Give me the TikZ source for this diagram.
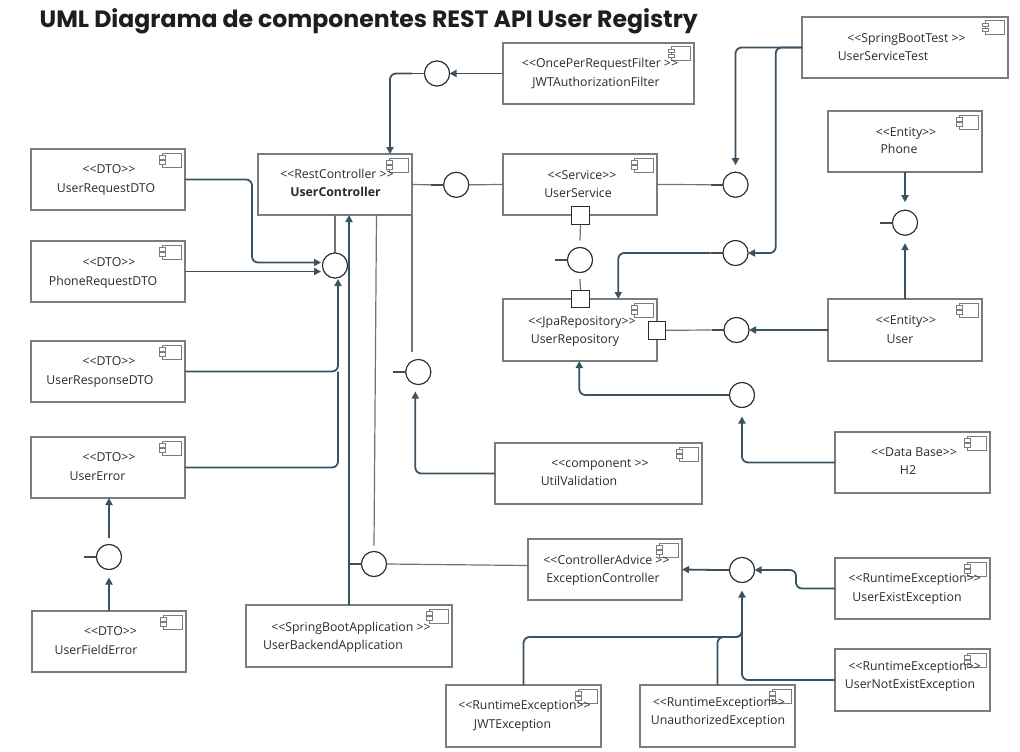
\documentclass[tikz,border=0pt]{standalone}
\usepackage{graphicx}
\usepackage{fontspec}
\setmainfont{Open Sans}
\newfontfamily\titlefont{Poppins}
\usetikzlibrary{arrows.meta}
\definecolor{connc}{HTML}{3B5262}
\definecolor{thinc}{HTML}{727272}
\definecolor{boxc}{HTML}{7C7C7C}
\definecolor{inkc}{HTML}{2B2B2B}
\definecolor{stubc}{HTML}{4A4A4A}
\definecolor{titlec}{HTML}{1E1E1E}
\newcommand\LL{<\kern0pt<}
\newcommand\GG{>\kern0pt>}
\tikzset{
  compbox/.style={draw=boxc, line width=1.4pt, fill=white, anchor=north west, inner sep=0pt, outer sep=0pt},
  lbl/.style={anchor=base, inner sep=0pt, text=inkc, font=\fontsize{12.3}{14}\selectfont},
  iface/.style={circle, draw=inkc, line width=1pt, minimum size=25pt, inner sep=0pt, outer sep=0pt, fill=white},
  port/.style={rectangle, draw=inkc, line width=1pt, minimum size=17.5pt, inner sep=0pt, outer sep=0pt, fill=white},
  conn/.style={draw=connc, line width=1.8pt, rounded corners=6pt},
  arr/.style={conn, -{Triangle[length=7pt,width=7pt]}},
  thinl/.style={draw=thinc, line width=1.2pt},
  stubl/.style={draw=stubc, line width=1.6pt},
  iconl/.style={draw=boxc, line width=1pt},
}
\newcommand\comp[5]{%
  \node[compbox, minimum width={#4-#2}, minimum height={#5-#3}] (#1) at (#2,#3) {};
  \draw[iconl] ([xshift=-23pt,yshift=-4pt]#1.north east) rectangle ([xshift=-4pt,yshift=-18pt]#1.north east);
  \draw[iconl,fill=white] ([xshift=-26pt,yshift=-6.5pt]#1.north east) rectangle ([xshift=-20pt,yshift=-10pt]#1.north east);
  \draw[iconl,fill=white] ([xshift=-26pt,yshift=-11.5pt]#1.north east) rectangle ([xshift=-20pt,yshift=-15pt]#1.north east);
}
\newcommand\txt[4]{\node[lbl] (#1) at (#2,{#3+4.5}) {#4};}
\begin{document}
\begin{tikzpicture}[x=1pt,y=-1pt]
\useasboundingbox[fill=white] (0,0) rectangle (1020,752);

% title
\node[anchor=base west, inner sep=0pt, text=titlec] (title) at (39.5,27.3)
  {\resizebox{658pt}{!}{\titlefont\bfseries UML Diagrama de componentes REST API User Registry}};

\coordinate (dIn1) at (321,262.5);
\coordinate (dIn2) at (321,271.5);
\coordinate (dIn3) at (338,279);
\coordinate (jExc) at (742,637);

% ---------- components ----------
\comp{UReq}{31}{149}{185}{210}
\comp{PReq}{31}{241}{185}{302}
\comp{URes}{31}{341}{185}{402}
\comp{UErr}{31}{437}{185}{498}
\comp{UFE}{32}{611}{186}{672}
\comp{UC}{258}{154}{412}{215}
\comp{JWT}{503}{43}{694}{104}
\comp{US}{503}{154}{657}{215}
\comp{UST}{802}{17}{1008}{78}
\comp{Phone}{828}{111}{982}{172}
\comp{User}{828}{299}{982}{361}
\comp{Repo}{503}{299}{657}{361}
\comp{Util}{495}{443}{702}{504}
\comp{H2}{835}{432}{990}{493}
\comp{ExcC}{528}{539}{682}{600}
\comp{UEx}{835}{558}{990}{619}
\comp{UNEx}{835}{649}{990}{711}
\comp{JWTE}{446}{685}{601}{747}
\comp{Unauth}{640}{685}{795}{747}
\comp{App}{246}{605}{452}{667}

% ---------- interfaces ----------
\node[iface] (cJWT) at (437,73.5) {};
\node[iface] (cUCUS) at (456.2,184.8) {};
\node[iface] (cDTO) at (335,265.5) {};
\node[iface] (cUSR) at (735.5,184.7) {};
\node[iface] (cUST2) at (735.5,253) {};
\node[iface] (cRepoU) at (736.5,330) {};
\node[iface] (cSvcRepo) at (580,260) {};
\node[iface] (cPhone) at (905,222.7) {};
\node[iface] (cUtil) at (418.3,372) {};
\node[iface] (cH2) at (742,395) {};
\node[iface] (cExc) at (742,570) {};
\node[iface] (cApp) at (374,564) {};
\node[iface] (cErr) at (109,557) {};

% ports
\node[port] (pUS) at (580.5,215.5) {};
\node[port] (pRepoT) at (580.5,299.2) {};
\node[port] (pRepoR) at (657,330.3) {};

% ---------- stubs ----------
\foreach \c in {cJWT,cUCUS,cUSR,cUST2,cRepoU,cSvcRepo,cPhone,cUtil,cH2,cExc,cErr}
  \draw[stubl] (\c.west) -- ++(-12.5,0) coordinate (s\c);

% ---------- connectors ----------
\draw[arr] (JWT.west) -- (cJWT.east);
\draw[arr] (scJWT) -| (390,0 |- UC.north);
\draw[thinl] (UC.east) -- (scUCUS);
\draw[thinl] (cUCUS.east) -- (US.west);
\draw[thinl] (US.east) -- (scUSR);
\draw[arr] (UST.west) -| ([yshift=7pt]cUSR.north);
\draw[arr] (UST.west) -| (775.7,0 |- cUST2.east) -- (cUST2.east);
\draw[arr] (scUST2) -| (618.3,0 |- Repo.north);
\draw[thinl] (pUS.south) -- ([yshift=7pt]cSvcRepo.north);
\draw[thinl] ([yshift=-6.5pt]cSvcRepo.south) -- (pRepoT.north);
\draw[thinl] (pRepoR.east) -- (scRepoU);
\draw[arr] (User.west) -- (cRepoU.east);
\draw[arr] (Phone.south) -- ([yshift=8pt]cPhone.north);
\draw[arr] (User.north) -- ([yshift=-8pt]cPhone.south);
\draw[arr] (scH2) -| (579.3,0 |- Repo.south);
\draw[arr] (H2.west) -| ([yshift=-9pt]cH2.south);
\draw[arr] (Util.west) -| ([xshift=-3pt,yshift=-7pt]cUtil.south);
\draw[thinl] (UC.south east) -- ++(0,137);
\draw[thinl] (UC.south) -- (cDTO.north);
\draw[arr] (UReq.east) -| (252,0 |- dIn1) -- (dIn1);
\draw[arr] (PReq.east) -- (dIn2);
\draw[arr] (URes.east) -| (dIn3);
\draw[conn] (UErr.east) -| (338,371.5);
\draw[arr] (App.north) -- (UC.south -| App.north);
\draw[stubl] (cApp.west -| App.north) -- (cApp.west);
\draw[thinl] (376.5,0 |- UC.south) -- ([yshift=6pt]cApp.north);
\draw[thinl] (cApp.east) -- ([yshift=4pt]ExcC.west);
\draw[arr] (scExc) -- (ExcC.east);
\draw[arr] (UEx.west) -| (796,0 |- cExc.east) -- (cExc.east);
\draw[arr] (UNEx.west) -| ([yshift=-8pt]cExc.south);
\draw[conn] (JWTE.north) |- (jExc) -- ++(0,-17);
\draw[conn] (Unauth.north) |- (jExc) -- ++(0,-17);
\draw[arr] (UFE.north) -- ([yshift=-8pt]cErr.south);
\draw[arr] ([yshift=6.5pt]cErr.north) -- (UErr.south -| cErr.north);

% redraw circles and ports on top
\foreach \c in {cJWT,cUCUS,cDTO,cUSR,cUST2,cRepoU,cSvcRepo,cPhone,cUtil,cH2,cExc,cApp,cErr}
  \draw[draw=inkc, line width=1pt, fill=white] (\c) circle (12.5pt);
\node[port] at (pUS) {};
\node[port] at (pRepoT) {};
\node[port] at (pRepoR) {};

% ---------- texts ----------
\txt{UReq-s}{109}{169}{\LL DTO\GG}
\txt{UReq-n}{106}{187.7}{UserRequestDTO}
\txt{PReq-s}{109}{262}{\LL DTO\GG}
\txt{PReq-n}{103}{280.7}{PhoneRequestDTO}
\txt{URes-s}{109}{361}{\LL DTO\GG}
\txt{URes-n}{100}{379.7}{UserResponseDTO}
\txt{UErr-s}{109}{457}{\LL DTO\GG}
\txt{UErr-n}{97.5}{475.7}{UserError}
\txt{UFE-s}{110.5}{631}{\LL DTO\GG}
\txt{UFE-n}{96}{649.7}{UserFieldError}
\txt{UC-s}{337}{174}{\LL RestController \GG}
\txt{UC-n}{335.5}{192}{\bfseries UserController}
\txt{JWT-s}{600}{63}{\LL OncePerRequestFilter \GG}
\txt{JWT-n}{596}{81.7}{JWTAuthorizationFilter}
\txt{US-s}{582}{174.7}{\LL Service\GG}
\txt{US-n}{578}{192.7}{UserService}
\txt{UST-s}{906.5}{38}{\LL SpringBootTest \GG}
\txt{UST-n}{883}{56}{UserServiceTest}
\txt{Phone-s}{906}{132}{\LL Entity\GG}
\txt{Phone-n}{899}{149}{Phone}
\txt{User-s}{906}{320}{\LL Entity\GG}
\txt{User-n}{900}{339}{User}
\txt{Repo-s}{582}{321}{\LL JpaRepository\GG}
\txt{Repo-n}{575}{339}{UserRepository}
\txt{Util-s}{600}{463}{\LL component \GG}
\txt{Util-n}{579}{481}{UtilValidation}
\txt{H2-s}{914}{452}{\LL Data Base\GG}
\txt{H2-n}{908}{470}{H2}
\txt{ExcC-s}{606.5}{560}{\LL ControllerAdvice \GG}
\txt{ExcC-n}{603}{578}{ExceptionController}
\txt{UEx-s}{914.7}{578}{\LL RuntimeException\GG}
\txt{UEx-n}{907}{597}{UserExistException}
\txt{UNEx-s}{914.7}{666}{\LL RuntimeException\GG}
\txt{UNEx-n}{910}{683.5}{UserNotExistException}
\txt{JWTE-s}{524.5}{705}{\LL RuntimeException\GG}
\txt{JWTE-n}{512.6}{724}{JWTException}
\txt{Unauth-s}{719}{702}{\LL RuntimeException\GG}
\txt{Unauth-n}{718}{719.5}{UnauthorizedException}
\txt{App-s}{351}{627}{\LL SpringBootApplication \GG}
\txt{App-n}{333}{645}{UserBackendApplication}
\end{tikzpicture}
\end{document}
